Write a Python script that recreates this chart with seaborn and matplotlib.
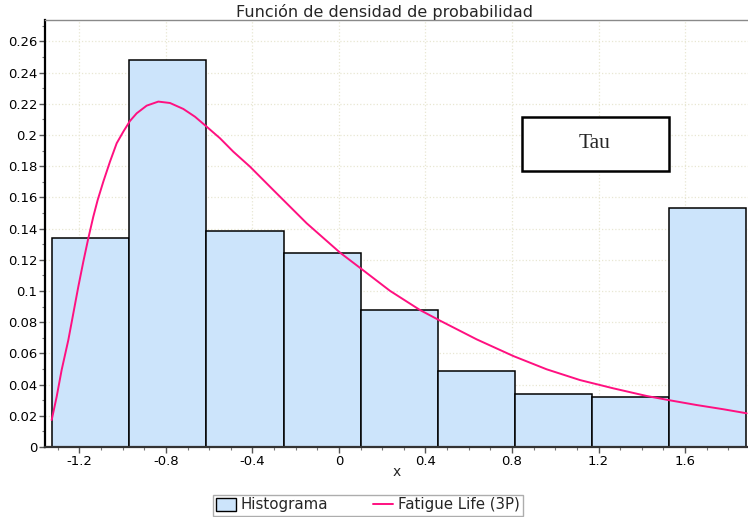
import numpy as np
import matplotlib
matplotlib.use("Agg")
import matplotlib.pyplot as plt
import seaborn as sns
from matplotlib.patches import Patch, Rectangle
from matplotlib.lines import Line2D
from matplotlib.ticker import MultipleLocator

# Histogram: bin edges and relative frequency of each bin
bin_edges = [-1.3258, -0.9693, -0.6128, -0.2563, 0.1002, 0.4567, 0.8132, 1.1697, 1.5262, 1.8827]
bin_heights = [0.1338, 0.2481, 0.1387, 0.1241, 0.0878, 0.0489, 0.0342, 0.0318, 0.1534]

# Fitted Fatigue Life (3P) density
curve_x = [-1.3287, -1.3056, -1.2825, -1.2516, -1.2285, -1.2054, -1.1823, -1.1592,
           -1.1362, -1.1160, -1.0898, -1.0590, -1.0280, -0.9975, -0.9665, -0.9355,
           -0.8893, -0.8355, -0.7815, -0.7200, -0.6659, -0.6118, -0.5503, -0.4888,
           -0.4116, -0.3037, -0.1494, 0.0046, 0.1003, 0.2358, 0.3746, 0.4671,
           0.6366, 0.8062, 0.9603, 1.1145, 1.2686, 1.4227, 1.5229, 1.6540,
           1.7772, 1.8852]
curve_y = [0.0173, 0.0322, 0.0494, 0.0686, 0.0857, 0.1028, 0.1188, 0.1338,
           0.1476, 0.1583, 0.1701, 0.1829, 0.1947, 0.2021, 0.2090, 0.2139,
           0.2188, 0.2214, 0.2205, 0.2167, 0.2117, 0.2053, 0.1979, 0.1893,
           0.1797, 0.1647, 0.1434, 0.1246, 0.1145, 0.1001, 0.0878, 0.0810,
           0.0690, 0.0583, 0.0498, 0.0429, 0.0376, 0.0327, 0.0301, 0.0269,
           0.0242, 0.0216]

x_ticks = [-1.2, -0.8, -0.4, 0.0, 0.4, 0.8, 1.2, 1.6]
x_tick_labels = ["-1.2", "-0.8", "-0.4", "0", "0.4", "0.8", "1.2", "1.6"]
y_ticks = [0.0, 0.02, 0.04, 0.06, 0.08, 0.10, 0.12, 0.14, 0.16, 0.18, 0.20, 0.22, 0.24, 0.26]
y_tick_labels = ["0", "0.02", "0.04", "0.06", "0.08", "0.1", "0.12", "0.14",
                 "0.16", "0.18", "0.2", "0.22", "0.24", "0.26"]

title = "Función de densidad de probabilidad"
x_label = "x"
hist_label = "Histograma"
curve_label = "Fatigue Life (3P)"
note_text = "Tau"

bar_color = "#cce4fb"
curve_color = "#ff1080"
grid_color = "#e8e7d2"

sns.set_style("white")
plt.rcParams["font.family"] = ["DejaVu Sans"]
plt.rcParams["axes.unicode_minus"] = False

fig = plt.figure(figsize=(7.48, 5.17), dpi=100)
ax = fig.add_axes([45 / 748, 1 - 447 / 517, 702.5 / 748, 427 / 517])

centers = [(a + b) / 2 for a, b in zip(bin_edges[:-1], bin_edges[1:])]
sns.histplot(x=centers, weights=bin_heights, bins=bin_edges, stat="count",
             color=bar_color, edgecolor="black", linewidth=1.1, alpha=1.0,
             ax=ax, zorder=2)
sns.lineplot(x=curve_x, y=curve_y, color=curve_color, linewidth=1.4, ax=ax,
             sort=False, zorder=3)

ax.set_xlim(-1.3595, 1.889)
ax.set_ylim(0, 0.2737)

ax.set_xticks(x_ticks, labels=x_tick_labels)
ax.set_yticks(y_ticks, labels=y_tick_labels)
ax.xaxis.set_minor_locator(MultipleLocator(0.1))
ax.yaxis.set_minor_locator(MultipleLocator(0.01))
ax.tick_params(axis="both", which="major", direction="out", length=4, width=1,
               color="#555555", labelsize=9.5, labelcolor="black", pad=1.5)
ax.tick_params(axis="both", which="minor", direction="out", length=2.5, width=0.8,
               color="#777777")
ax.tick_params(axis="both", which="both", bottom=True, left=True, top=False, right=False)

ax.set_axisbelow(True)
ax.grid(True, which="major", color=grid_color, linestyle=":", linewidth=0.9, zorder=0)

ax.spines["left"].set_color("black")
ax.spines["left"].set_linewidth(1.6)
ax.spines["bottom"].set_color("#333333")
ax.spines["bottom"].set_linewidth(1.6)
ax.spines["top"].set_color("#8a8a8a")
ax.spines["top"].set_linewidth(1.0)
ax.spines["right"].set_visible(False)

ax.set_xlabel(x_label, fontsize=10, labelpad=-2)
ax.set_ylabel("")
fig.text(384 / 748, 1 - 12 / 517, title, fontsize=11.5, ha="center", va="center")

# Annotation box in the upper right
ax.add_patch(Rectangle((0.6786, 0.6471), 0.2091, 0.1264, transform=ax.transAxes,
                       facecolor="white", edgecolor="black", linewidth=1.8, zorder=6))
ax.text(0.783, 0.710, note_text, transform=ax.transAxes, ha="center", va="center",
        fontsize=15.5, family=["Liberation Serif", "DejaVu Serif"], zorder=7)

handles = [
    Patch(facecolor=bar_color, edgecolor="black", linewidth=1.0, label=hist_label),
    Line2D([], [], color=curve_color, linewidth=1.4, label=curve_label),
]
fig.legend(handles=handles, loc="center", bbox_to_anchor=(368 / 748, 1 - 505 / 517), ncol=2,
           frameon=True, fancybox=False, edgecolor="#999999", fontsize=10.8,
           borderpad=0.2, handlelength=1.3, handleheight=0.9, handletextpad=0.35,
           columnspacing=3.0, borderaxespad=0)

fig.savefig("out.png", dpi=100)
